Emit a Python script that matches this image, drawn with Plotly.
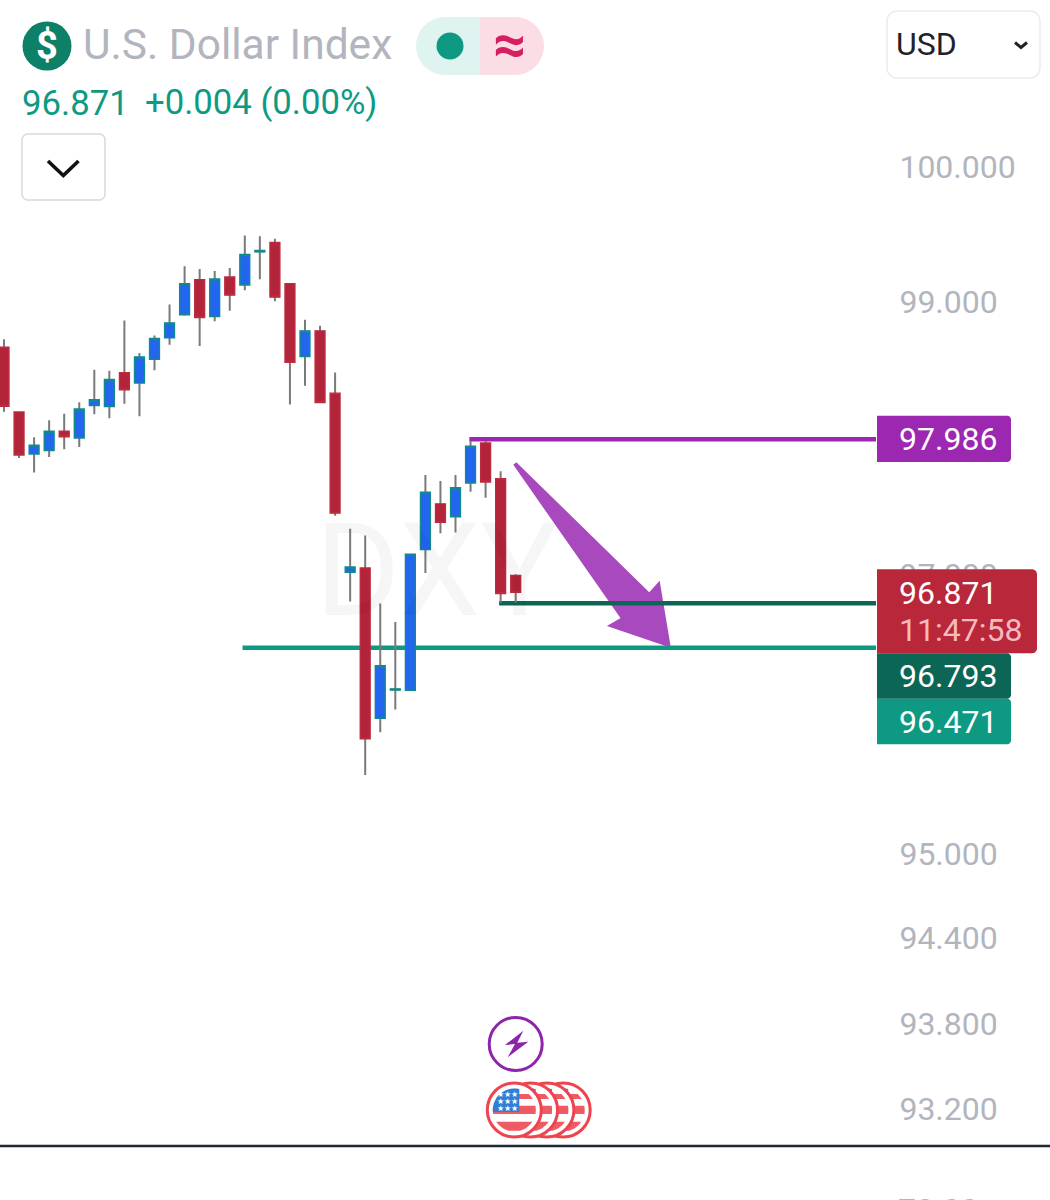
import math
import plotly.graph_objects as go

# ---------- data ----------
index = list(range(35))
highs = [98.721,98.186,98.001,98.125,98.173,98.258,98.497,98.489,98.859,98.620,98.748,98.978,99.261,99.241,99.226,99.248,99.490,99.483,99.465,99.132,98.865,98.820,98.475,97.333,97.283,96.791,96.657,97.147,97.724,97.680,97.724,97.972,97.972,97.752,97.003]
opens = [98.662,98.186,97.878,97.904,98.044,97.995,98.233,98.225,98.475,98.398,98.573,98.731,98.902,99.162,98.889,99.181,99.122,99.368,99.438,99.132,98.593,98.783,98.324,97.017,97.048,95.963,96.167,96.164,97.181,97.514,97.420,97.666,97.959,97.697,96.993]
closes = [98.228,97.870,97.943,98.044,98.004,98.208,98.275,98.425,98.349,98.591,98.726,98.842,99.132,98.882,99.166,99.047,99.348,99.378,99.032,98.551,98.783,98.255,97.446,97.055,95.816,96.341,96.174,97.147,97.598,97.379,97.632,97.935,97.673,96.863,96.871]
lows = [98.188,97.849,97.742,97.856,97.912,97.930,98.169,98.139,98.247,98.154,98.492,98.680,98.896,98.672,98.854,98.931,99.084,99.164,99.002,98.240,98.378,98.255,97.427,96.805,95.558,95.863,96.026,96.164,97.012,97.299,97.306,97.603,97.559,96.795,96.795]

tick_values = [100.0,99.0,97.0,95.0,94.4,93.8,93.2]
tick_labels = ["100.000","99.000","97.000","95.000","94.400","93.800","93.200"]

level_purple = 97.986
level_dark = 96.793
level_teal = 96.471
last_price = 96.871
countdown = "11:47:58"
change_text = "+0.004 (0.00%)"

arrow_index = [33.95,42.88,43.48,44.14,40.38,41.15]
arrow_price = [97.807,96.851,96.923,96.493,96.632,96.681]

# ---------- style ----------
W, H = 1050, 1200
FONT = "Roboto"
GREY = "#B2B5BE"
TEAL = "#0E9A82"
DARK = "#0B6655"
PURPLE = "#9C27B0"

def X(p): return p / W
def Y(p): return 1 - p / H

shapes, annos = [], []

# drawings that sit behind the candles
arrow_path = "M" + " L".join(f"{a},{b}" for a, b in zip(arrow_index, arrow_price)) + " Z"
shapes.append(dict(type="path", xref="x", yref="y", path=arrow_path, fillcolor="#A84ABD",
                   line=dict(color="#A84ABD", width=4), layer="below"))
shapes.append(dict(type="line", xref="x", yref="y", x0=15.85, x1=58, y0=level_teal, y1=level_teal,
                   line=dict(color=TEAL, width=4.5), layer="below"))
shapes.append(dict(type="line", xref="x", yref="y", x0=32.9, x1=58, y0=level_dark, y1=level_dark,
                   line=dict(color=DARK, width=4.5), layer="below"))

fig = go.Figure()
# wicks
mids = [(o + c) / 2 for o, c in zip(opens, closes)]
fig.add_trace(go.Candlestick(x=index, open=mids, high=highs, low=lows, close=mids, whiskerwidth=0,
    increasing=dict(line=dict(color="#7A7A7A", width=2), fillcolor="#7A7A7A"),
    decreasing=dict(line=dict(color="#7A7A7A", width=2), fillcolor="#7A7A7A"), hoverinfo="skip"))
# bodies
body_hi = [max(o, c) for o, c in zip(opens, closes)]
body_lo = [min(o, c) for o, c in zip(opens, closes)]
fig.add_trace(go.Candlestick(x=index, open=opens, high=body_hi, low=body_lo, close=closes, whiskerwidth=0,
    increasing=dict(line=dict(color="#118A8C", width=1.4), fillcolor="#2266F0"),
    decreasing=dict(line=dict(color="#BE2A3E", width=1.4), fillcolor="#B2243A"), hoverinfo="skip"))
fig.add_trace(go.Scatter(x=[30.92, 58], y=[level_purple]*2, mode="lines",
                         line=dict(color=PURPLE, width=4.5), hoverinfo="skip"))


def poly(points, fill, line=None, lw=0):
    d = "M" + " L".join(f"{X(a):.5f},{Y(b):.5f}" for a, b in points) + " Z"
    shapes.append(dict(type="path", xref="paper", yref="paper", path=d, fillcolor=fill,
                       line=dict(color=line or "rgba(0,0,0,0)", width=lw), layer="above"))

def polyline(points, color, lw):
    d = "M" + " L".join(f"{X(a):.5f},{Y(b):.5f}" for a, b in points)
    shapes.append(dict(type="path", xref="paper", yref="paper", path=d,
                       line=dict(color=color, width=lw), layer="above"))

def arc(cx, cy, r, a0, a1, n=12):
    return [(cx + r*math.cos(math.radians(a0 + (a1-a0)*k/n)),
             cy + r*math.sin(math.radians(a0 + (a1-a0)*k/n))) for k in range(n+1)]

def rrect(x0, y0, x1, y1, rl=0, rr=0, fill="#fff", line=None, lw=0):
    pts = []
    pts += arc(x0+rl, y0+rl, rl, 180, 270) if rl else [(x0, y0)]
    pts += arc(x1-rr, y0+rr, rr, 270, 360) if rr else [(x1, y0)]
    pts += arc(x1-rr, y1-rr, rr, 0, 90) if rr else [(x1, y1)]
    pts += arc(x0+rl, y1-rl, rl, 90, 180) if rl else [(x0, y1)]
    poly(pts, fill, line, lw)

def circle(cx, cy, r, fill, line=None, lw=0):
    shapes.append(dict(type="circle", xref="paper", yref="paper", x0=X(cx-r), x1=X(cx+r),
                       y0=Y(cy+r), y1=Y(cy-r), fillcolor=fill,
                       line=dict(color=line or "rgba(0,0,0,0)", width=lw), layer="above"))

def text(x, y, s, size, color, anchor="left", weight=400, family=FONT):
    annos.append(dict(x=X(x), y=Y(y), xref="paper", yref="paper", text=s, showarrow=False,
                      xanchor=anchor, yanchor="middle", borderpad=0, borderwidth=0,
                      font=dict(family=family, size=size, color=color, weight=weight)))

# price tags
rrect(877, 415.7, 1011, 462, rr=4, fill="#9C27B0")
rrect(877, 698.7, 1011, 744.3, rr=4, fill="#0E9A82")
rrect(877, 653.3, 1011, 698.7, rr=4, fill="#0B6655")
rrect(877, 569.3, 1037, 653.3, rr=5, fill="#B8273A")
text(899, 439, f"{level_purple:.3f}", 32, "#FFFFFF")
text(899, 593, f"{last_price:.3f}", 32, "#FFFFFF")
text(899, 630, countdown, 32, "#F6B9BE")
text(899, 676, f"{level_dark:.3f}", 32, "#FFFFFF")
text(899, 722, f"{level_teal:.3f}", 32, "#FFFFFF")

# header
circle(47, 46, 24.5, "#0E8068")
text(47, 46, "$", 38, "#FFFFFF", "center", 700)
text(82.5, 45, "U.S. Dollar Index", 42.5, GREY)
rrect(416, 17, 480, 75, rl=29, fill="#DFF3F0")
rrect(480, 17, 544, 75, rr=29, fill="#FBDDE6")
circle(450, 46, 13.5, TEAL)
text(509, 44, "≈", 58, "#D81E63", "center", 700)
text(21.5, 103, f"{last_price:.3f}", 34.7, TEAL)
text(144.5, 103, change_text, 34.7, TEAL)
rrect(22, 134, 105, 200, 6, 6, "#FFFFFF", "#D9D9D9", 1.5)
polyline([(48, 161), (63.3, 175.5), (78.5, 161)], "#111111", 3.6)

# currency select
rrect(887, 11, 1040, 78, 10, 10, "#FFFFFF", "#EBEBEB", 1.5)
text(896, 44, "USD", 32, "#1F2329")
polyline([(1015, 42.5), (1021, 47.5), (1027, 42.5)], "#1F2329", 3)

# watermark
text(437, 570, "DXY", 130, "rgba(0,0,0,0.035)", "center")

# lightning marker
circle(515.7, 1044, 26.5, "#FFFFFF", "#8E24AA", 3)
poly([(523.3, 1030.7), (505, 1045), (515, 1044), (507.7, 1057.3), (528.3, 1041.7), (517.3, 1042.7)], "#8E24AA")

# flag markers
for cx in [563.2, 546.9, 530.6, 514.3]:
    cy, r = 1110, 21.5
    circle(cx, cy, 27, "#FFFFFF", "#EF4450", 3)
    for y1, y2 in [(-16, -11), (-4.3, 4), (11.7, 20.7)]:
        a1 = math.degrees(math.asin(y1/r)); a2 = math.degrees(math.asin(y2/r))
        poly(arc(cx, cy, r, a1, a2, 8) + arc(cx, cy, r, 180-a2, 180-a1, 8), "#EF5B62")
    a0 = math.degrees(math.asin(2/r))
    a1 = 360 - math.degrees(math.acos(5/r))
    poly([(cx+5, cy+2)] + arc(cx, cy, r, 180-a0, a1, 14), "#2F7FD8")
for row_y in [1094, 1101.5, 1108.5]:
    text(507, row_y, "★★★", 8, "#FFFFFF", "center")

# bottom rule and cropped pane label
shapes.append(dict(type="line", xref="paper", yref="paper", x0=0, x1=1, y0=Y(1146), y1=Y(1146),
                   line=dict(color="#1F2933", width=2.5), layer="above"))
text(898, 1209.5, "70.00", 32, GREY)

fig.update_layout(
    width=W, height=H, margin=dict(l=0, r=0, t=0, b=0), autosize=False,
    paper_bgcolor="#FFFFFF", plot_bgcolor="#FFFFFF", showlegend=False,
    hovermode=False, shapes=shapes, annotations=annos, boxgap=0.19, boxgroupgap=0.19,
    xaxis=dict(domain=[0, 876/W], range=[-0.2658, 57.94], visible=False, rangeslider=dict(visible=False)),
    yaxis=dict(type="log", side="right", range=[1.96647, 2.005421], showgrid=False, zeroline=False,
               showline=False, tickmode="array", tickvals=tick_values, ticktext=tick_labels,
               ticks="outside", ticklen=16, tickcolor="rgba(0,0,0,0)",
               tickfont=dict(family=FONT, size=32, color=GREY)),
)
fig.write_html("out.html", config={"displayModeBar": False},
               post_script="document.body.style.margin='0';document.documentElement.style.overflow='hidden';")
